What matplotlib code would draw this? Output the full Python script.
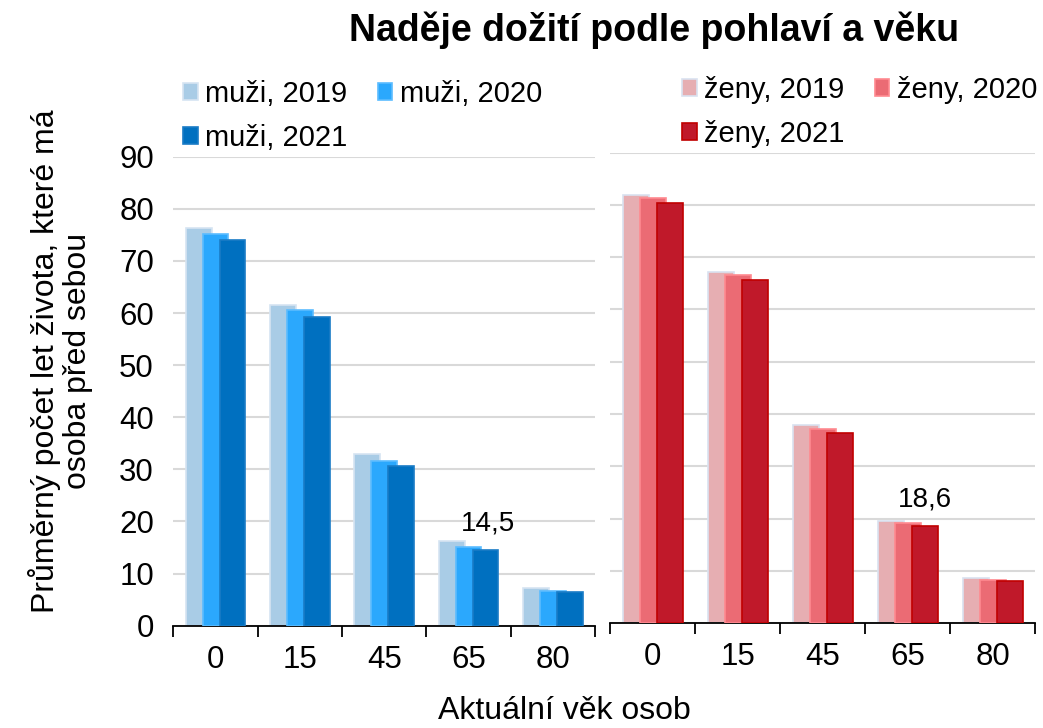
import matplotlib.pyplot as plt
import numpy as np

plt.rcParams['font.family'] = ['Liberation Sans', 'DejaVu Sans']

# Data
vek = ['0', '15', '45', '65', '80']
roky = ['2019', '2020', '2021']

muzi_2019 = [76.3, 61.5, 32.9, 16.2, 7.3]
muzi_2020 = [75.2, 60.5, 31.7, 15.2, 6.6]
muzi_2021 = [74.0, 59.3, 30.7, 14.5, 6.4]

zeny_2019 = [82.0, 67.2, 37.9, 19.5, 8.7]
zeny_2020 = [81.3, 66.6, 37.2, 19.1, 8.2]
zeny_2021 = [80.4, 65.7, 36.4, 18.6, 8.1]

barvy_muzi = ['#a9cce6', '#2ba8fd', '#0070c0']
okraje_muzi = ['#d6e4f2', '#5cbcff', '#1a7cc6']
barvy_zeny = ['#e6aeb2', '#eb6b74', '#c0192a']
okraje_zeny = ['#d9e2f0', '#ff8a90', '#c00000']

fig = plt.figure(figsize=(10.43, 7.28), dpi=100)
ax1 = fig.add_axes([0.1662, 0.1405, 0.4043, 0.6442])
ax2 = fig.add_axes([0.5849, 0.1442, 0.4075, 0.6460])

x = np.arange(len(vek))
sirka = 0.305
posun = [-0.2, 0.0, 0.2]


def kresli(ax, serie, barvy, okraje, pohlavi):
    for i, vals in enumerate(serie):
        ax.bar(x + posun[i], vals, width=sirka, color=barvy[i],
               edgecolor=okraje[i], linewidth=1.2,
               label=f'{pohlavi}, {roky[i]}', zorder=2 + i)
    ax.set_ylim(0, 90)
    ax.set_xlim(-0.5, len(vek) - 0.5)
    ax.set_yticks(range(0, 91, 10))
    ax.yaxis.grid(True, color='#d9d9d9', linewidth=1.5)
    ax.set_axisbelow(True)
    for s in ['top', 'right', 'left']:
        ax.spines[s].set_visible(False)
    ax.spines['bottom'].set_linewidth(1.3)
    ax.set_xticks(x)
    ax.set_xticklabels(vek, fontsize=22.5)
    ax.set_xticks(np.arange(-0.5, len(vek), 1.0), minor=True)
    ax.tick_params(axis='x', which='major', length=0, pad=14)
    ax.tick_params(axis='x', which='minor', length=8, width=1.3, direction='out')
    ax.tick_params(axis='y', length=0, labelsize=22.5, pad=14)


kresli(ax1, [muzi_2019, muzi_2020, muzi_2021], barvy_muzi, okraje_muzi, 'muži')
kresli(ax2, [zeny_2019, zeny_2020, zeny_2021], barvy_zeny, okraje_zeny, 'ženy')
ax2.tick_params(axis='y', labelleft=False)

# popisky hodnot u 65 let, 2021
ax1.annotate(f'{muzi_2021[3]:.1f}'.replace('.', ','), xy=(3 + posun[2], muzi_2021[3]),
             xytext=(2, 19), textcoords='offset points', ha='center', va='center', fontsize=20)
ax2.annotate(f'{zeny_2021[3]:.1f}'.replace('.', ','), xy=(3 + posun[2], zeny_2021[3]),
             xytext=(0, 19), textcoords='offset points', ha='center', va='center', fontsize=20)

# legendy (poradi kvuli rozlozeni po radcich)
leg_opts = dict(ncol=2, loc='upper left', frameon=False, fontsize=21,
                handlelength=0.5, handleheight=0.5, handletextpad=0.25,
                columnspacing=1.05, labelspacing=0.55, borderpad=0.0, borderaxespad=0.0)
h, l = ax1.get_legend_handles_labels()
fig.legend([h[0], h[2], h[1]], [l[0], l[2], l[1]], bbox_to_anchor=(0.1755, 0.890), **leg_opts)
h, l = ax2.get_legend_handles_labels()
fig.legend([h[0], h[2], h[1]], [l[0], l[2], l[1]], bbox_to_anchor=(0.6539, 0.896), **leg_opts)

fig.text(0.627, 0.958, 'Naděje dožití podle pohlaví a věku', ha='center', va='center',
         fontsize=27, fontweight='bold')
fig.text(0.058, 0.504, 'Průměrný počet let života, které má\nosoba před sebou', rotation=90,
         ha='center', va='center', fontsize=23, linespacing=1.05)
fig.text(0.541, 0.024, 'Aktuální věk osob', ha='center', va='center', fontsize=23)

fig.savefig('out.png', dpi=100)
